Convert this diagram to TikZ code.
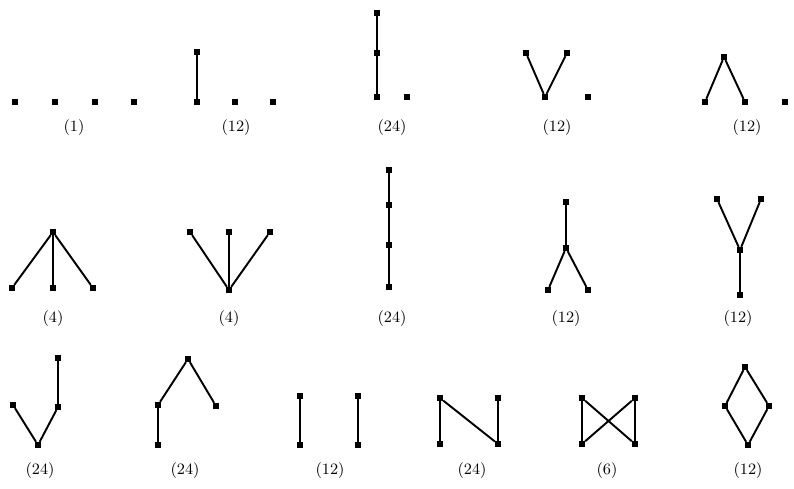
\documentclass[tikz,border=0pt]{standalone}
\usepackage{tikz}

\begin{document}
\begin{tikzpicture}[
        x=0.02cm, y=-0.02cm,
        font=\small,
        dot/.style={rectangle, fill=black, inner sep=0pt, minimum size=3.2pt},
        lbl/.style={inner sep=1pt},
        line/.style={line width=1.1pt}
    ]
        \useasboundingbox (0,0) rectangle (794,489);

        % first row
        \node[dot] (a1) at (15,102) {};
        \node[dot] (a2) at (55,102) {};
        \node[dot] (a3) at (95,102) {};
        \node[dot] (a4) at (134,102) {};
        \node[lbl] (la) at (74,128) {(1)};

        \node[dot] (b1) at (197,52) {};
        \node[dot] (b2) at (197,102) {};
        \node[dot] (b3) at (235,102) {};
        \node[dot] (b4) at (273,102) {};
        \node[lbl] (lb) at (236,128) {(12)};
        \draw[line] (b1) -- (b2);

        \node[dot] (c1) at (377,13) {};
        \node[dot] (c2) at (377,53) {};
        \node[dot] (c3) at (377,97) {};
        \node[dot] (c4) at (407,97) {};
        \node[lbl] (lc) at (392,128) {(24)};
        \draw[line] (c1) -- (c2) -- (c3);

        \node[dot] (d1) at (526,53) {};
        \node[dot] (d2) at (567,53) {};
        \node[dot] (d3) at (545,97) {};
        \node[dot] (d4) at (588,97) {};
        \node[lbl] (ld) at (557,128) {(12)};
        \draw[line] (d1) -- (d3) -- (d2);

        \node[dot] (e1) at (724,57) {};
        \node[dot] (e2) at (705,102) {};
        \node[dot] (e3) at (745,102) {};
        \node[dot] (e4) at (785,102) {};
        \node[lbl] (le) at (747,128) {(12)};
        \draw[line] (e2) -- (e1) -- (e3);

        % second row
        \node[dot] (f1) at (53,232) {};
        \node[dot] (f2) at (12,288) {};
        \node[dot] (f3) at (53,288) {};
        \node[dot] (f4) at (93,288) {};
        \node[lbl] (lf) at (53,319) {(4)};
        \draw[line] (f1) -- (f2);
        \draw[line] (f1) -- (f3);
        \draw[line] (f1) -- (f4);

        \node[dot] (g1) at (190,232) {};
        \node[dot] (g2) at (229,232) {};
        \node[dot] (g3) at (270,232) {};
        \node[dot] (g4) at (229,290) {};
        \node[lbl] (lg) at (229,319) {(4)};
        \draw[line] (g4) -- (g1);
        \draw[line] (g4) -- (g2);
        \draw[line] (g4) -- (g3);

        \node[dot] (h1) at (389,170) {};
        \node[dot] (h2) at (389,205) {};
        \node[dot] (h3) at (389,245) {};
        \node[dot] (h4) at (389,287) {};
        \node[lbl] (lh) at (392,319) {(24)};
        \draw[line] (h1) -- (h2) -- (h3) -- (h4);

        \node[dot] (i1) at (566,202) {};
        \node[dot] (i2) at (566,248) {};
        \node[dot] (i3) at (548,290) {};
        \node[dot] (i4) at (588,290) {};
        \node[lbl] (li) at (566,319) {(12)};
        \draw[line] (i1) -- (i2);
        \draw[line] (i3) -- (i2) -- (i4);

        \node[dot] (j1) at (717,199) {};
        \node[dot] (j2) at (761,199) {};
        \node[dot] (j3) at (740,250) {};
        \node[dot] (j4) at (740,295) {};
        \node[lbl] (lj) at (738,319) {(12)};
        \draw[line] (j1) -- (j3) -- (j2);
        \draw[line] (j3) -- (j4);

        % third row
        \node[dot] (k1) at (13,405) {};
        \node[dot] (k2) at (38,445) {};
        \node[dot] (k3) at (58,407) {};
        \node[dot] (k4) at (58,358) {};
        \node[lbl] (lk) at (40,471) {(24)};
        \draw[line] (k1) -- (k2) -- (k3) -- (k4);

        \node[dot] (m1) at (188,359) {};
        \node[dot] (m2) at (158,405) {};
        \node[dot] (m3) at (158,445) {};
        \node[dot] (m4) at (216,406) {};
        \node[lbl] (lm) at (185,471) {(24)};
        \draw[line] (m3) -- (m2) -- (m1) -- (m4);

        \node[dot] (n1) at (300,396) {};
        \node[dot] (n2) at (300,445) {};
        \node[dot] (n3) at (358,396) {};
        \node[dot] (n4) at (358,445) {};
        \node[lbl] (ln) at (330,471) {(12)};
        \draw[line] (n1) -- (n2);
        \draw[line] (n3) -- (n4);

        \node[dot] (p1) at (440,398) {};
        \node[dot] (p2) at (498,398) {};
        \node[dot] (p3) at (440,444) {};
        \node[dot] (p4) at (498,444) {};
        \node[lbl] (lp) at (472,471) {(24)};
        \draw[line] (p3) -- (p1) -- (p4) -- (p2);

        \node[dot] (q1) at (582,398) {};
        \node[dot] (q2) at (635,398) {};
        \node[dot] (q3) at (582,444) {};
        \node[dot] (q4) at (635,444) {};
        \node[lbl] (lq) at (607,471) {(6)};
        \draw[line] (q3) -- (q1);
        \draw[line] (q3) -- (q2);
        \draw[line] (q4) -- (q1);
        \draw[line] (q4) -- (q2);

        \node[dot] (r1) at (745,367) {};
        \node[dot] (r2) at (725,406) {};
        \node[dot] (r3) at (769,406) {};
        \node[dot] (r4) at (748,445) {};
        \node[lbl] (lr) at (748,471) {(12)};
        \draw[line] (r4) -- (r2) -- (r1) -- (r3) -- (r4);
    \end{tikzpicture}
\end{document}
